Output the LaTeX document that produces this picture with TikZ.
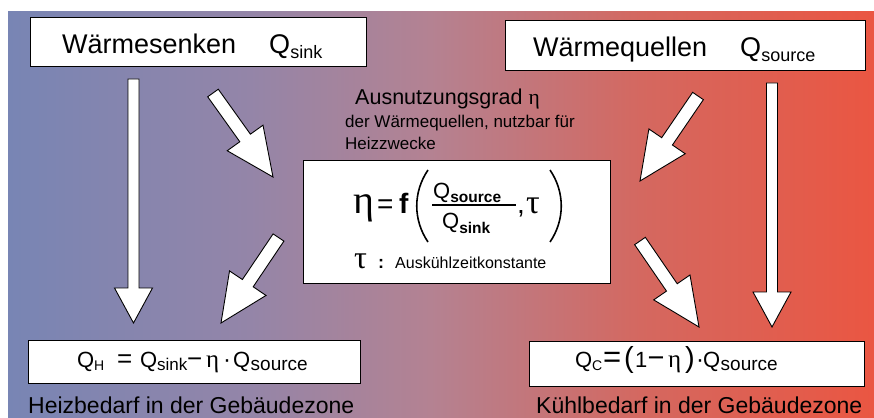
\documentclass[tikz,border=0pt]{standalone}
\usepackage{fontspec}
\setmainfont{Liberation Sans}
\newfontfamily\greekfont{Liberation Serif}
\usetikzlibrary{calc}

\definecolor{bgA}{RGB}{120,133,180}
\definecolor{bgB}{RGB}{148,133,168}
\definecolor{bgC}{RGB}{180,130,146}
\definecolor{bgD}{RGB}{212,104,96}
\definecolor{bgE}{RGB}{234,86,66}

\newcommand\fs[1]{\fontsize{#1}{#1}\selectfont}
\newcommand\etaG{{\greekfont η}}
\newcommand\tauG{{\greekfont τ}}
% lowered subscript: size, drop, text
\newcommand\lowsub[3]{\raisebox{-#2pt}{\fs{#1}#3}}
% fixed-width slot for one formula piece
\newcommand\slot[2]{\makebox[#1pt][l]{#2}}

% block arrow from tail #1 to tip #2: shaft half width #3, head half width #4, head length #5
\newcommand\blockarrow[5]{%
  \coordinate (#1-base) at ($(#2)!#5pt!(#1)$);
  \draw[fatarrow]
    ($(#1)!#3pt!90:(#2)$) -- ($(#1-base)!#3pt!90:(#2)$) --
    ($(#1-base)!#4pt!90:(#2)$) -- (#2) --
    ($(#1-base)!#4pt!-90:(#2)$) -- ($(#1-base)!#3pt!-90:(#2)$) --
    ($(#1)!#3pt!-90:(#2)$) -- cycle;
}

\begin{document}
\begin{tikzpicture}[x=1pt,y=-1pt,
  txt/.style={inner sep=0pt, anchor=base west, text=black},
  box/.style={draw=black, line width=1.2pt, fill=white, inner sep=0pt, anchor=north west},
  fatarrow/.style={draw=black, line width=0.9pt, fill=white, line join=miter},
  paren/.style={draw=black, line width=1.6pt}]
\useasboundingbox (0,0) rectangle (874,417);

% colour gradient from cold (left) to warm (right)
\shade[left color=bgA, right color=bgB] (8,12) rectangle (250.5,417);
\shade[left color=bgB, right color=bgC] (250,12) rectangle (430.5,417);
\shade[left color=bgC, right color=bgD] (430,12) rectangle (640.5,417);
\shade[left color=bgD, right color=bgE] (640,12) rectangle (874,417);

% top boxes
\node[box, minimum width=336pt, minimum height=49pt] (sinkbox) at (30,17) {};
\node[box, minimum width=360pt, minimum height=50pt] (sourcebox) at (505,20) {};
\node[txt] (sinklabel) at (62,54) {\fs{27}Wärmesenken\hspace{33pt}Q\lowsub{18}{5}{sink}};
\node[txt] (sourcelabel) at (533,57) {\fs{27}Wärmequellen\hspace{33pt}Q\lowsub{18}{5}{source}};

% utilisation factor heading
\node[txt] (etatitle) at (355,104) {\fs{21.5}Ausnutzungsgrad \etaG};
\node[txt] (etaline1) at (345,128) {\fs{17}der Wärmequellen, nutzbar für};
\node[txt] (etaline2) at (345,149) {\fs{17}Heizzwecke};

% central formula box
\node[box, minimum width=307pt, minimum height=123pt] (etabox) at (303,160) {};
\node[txt] (feta) at (353,213) {\fs{40}\etaG};
\node[txt] (feq) at (377,213) {\fs{28}=};
\node[txt] (ff) at (399,213) {\fs{28}\bfseries f};
\draw[paren] (428,170) .. controls (413,192) and (413,220) .. (428,242);
\node[txt] (fnum) at (433,198) {\fs{22}Q\lowsub{15.5}{4}{\bfseries source}};
\draw[line width=1.2pt] (432,205) -- (516,205);
\node[txt] (fden) at (442,228) {\fs{22}Q\lowsub{15.5}{5}{\bfseries sink}};
\node[txt] (fcomma) at (517,213) {\fs{28},};
\node[txt] (ftau) at (526,213) {\fs{34}\tauG};
\draw[paren] (550,170) .. controls (565,192) and (565,220) .. (550,242);
\node[txt] (ltau) at (354,268) {\fs{32}\tauG};
\node[txt] (lcolon) at (378,268) {\fs{18}\bfseries :};
\node[txt] (ltext) at (395,268) {\fs{16}Auskühlzeitkonstante};

% bottom boxes
\node[box, minimum width=332pt, minimum height=43pt] (heatbox) at (28,340) {};
\node[box, minimum width=335pt, minimum height=45pt] (coolbox) at (529,341) {};
\node[txt] (heatformula) at (77,367) {\fs{22}%
  \slot{17}{Q}\slot{23}{\lowsub{14}{3}{H}}\slot{23}{\fs{26}=}%
  \slot{17}{Q}\slot{30}{\lowsub{17}{3}{sink}}\slot{19}{\fs{26}−}%
  \slot{17}{\fs{25}\etaG}\slot{10}{\fs{24}·}%
  \slot{17.5}{Q}\lowsub{19}{3}{source}};
\node[txt] (coolformula) at (575,367) {\fs{22}%
  \slot{17}{Q}\slot{11}{\lowsub{14}{3}{C}}\slot{21}{\fs{31}=}%
  \slot{11}{\fs{29}(}\slot{12.5}{1}\slot{20.5}{\fs{29}−}%
  \slot{17}{\fs{25}\etaG}\slot{11}{\fs{29})}\slot{7}{\fs{24}·}%
  \slot{17.5}{Q}\lowsub{19}{3}{source}};
\node[txt] (heatcap) at (28,413) {\fs{23}Heizbedarf in der Gebäudezone};
\node[txt] (coolcap) at (536,413) {\fs{23}Kühlbedarf in der Gebäudezone};

% arrow end points
\coordinate (sinkdown) at (133.5,79);   \coordinate (sinkdowntip) at (133.5,323);
\coordinate (sourcedown) at (772,83);   \coordinate (sourcedowntip) at (772,327);
\coordinate (sinkin) at (213,93);       \coordinate (sinkintip) at (273,177);
\coordinate (sourcein) at (698,96);     \coordinate (sourceintip) at (640,181);
\coordinate (heatout) at (278.5,237.5); \coordinate (heatouttip) at (221,323);
\coordinate (coolout) at (640,241);     \coordinate (coolouttip) at (699,327);

\blockarrow{sinkdown}{sinkdowntip}{5.5}{19}{35}
\blockarrow{sourcedown}{sourcedowntip}{5.5}{19}{35}
\blockarrow{sinkin}{sinkintip}{6.5}{22}{48}
\blockarrow{sourcein}{sourceintip}{6.5}{22}{48}
\blockarrow{heatout}{heatouttip}{6.5}{22}{48}
\blockarrow{coolout}{coolouttip}{6.5}{22}{48}
\end{tikzpicture}
\end{document}
